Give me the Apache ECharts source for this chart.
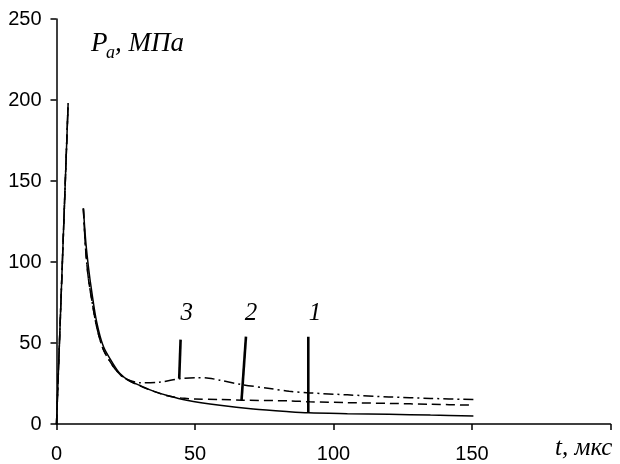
<!DOCTYPE html>
<html>
<head>
<meta charset="utf-8">
<script src="https://cdn.jsdelivr.net/npm/echarts@6/dist/echarts.min.js"></script>
<style>
  html, body { margin: 0; padding: 0; background: #fff; }
  #chart { width: 620px; height: 464px; }
</style>
</head>
<body>
<div id="chart"></div>
<script>
// Pressure pulse P_a (MPa) versus time t (µs), three cases

// initial rise, shared by all three curves
const riseT = [0, 4.2];
const riseP = [0, 198];

// curve 1 (solid)
const curve1T = [9.7, 10.6, 11.6, 12.7, 14.5, 16.9, 20.5, 23, 26, 30, 35, 40, 47, 59, 71, 84, 91, 105, 120, 135, 150.5];
const curve1P = [133, 112, 96, 82, 63, 48, 37, 31, 27, 23.9, 20.3, 17.6, 14.7, 11.6, 9.3, 7.6, 6.9, 6.4, 6.0, 5.5, 5.0];

// curve 2 (dashed)
const curve2T = [9.7, 10.5, 11.5, 12.7, 14.5, 16.9, 20.5, 23, 26, 30, 35, 40, 45, 50, 59, 67, 84, 91.5, 105, 120.4, 135, 150.5];
const curve2P = [133, 108, 90, 77, 60, 46, 35.5, 30.5, 27, 23.6, 20.2, 17.4, 16.0, 15.4, 15.1, 14.7, 14.3, 13.7, 13.2, 12.7, 12.2, 11.6];

// curve 3 (dash-dot)
const curve3T = [9.7, 10.5, 11.5, 12.7, 14.5, 16.9, 20.5, 23, 25.5, 30, 37, 44.6, 50.6, 55, 59, 67, 77, 84, 91.5, 105, 120, 135, 150.5];
const curve3P = [133, 108, 90, 77, 60, 46, 35.5, 30.5, 27.5, 25.5, 25.8, 28.0, 28.6, 28.3, 27.0, 24.3, 21.9, 20.2, 19.2, 18.0, 16.7, 15.8, 15.1];

// leader lines for the curve numbers: [t, P] at top and bottom
const leaderNames = ['1', '2', '3'];
const leaderTopT = [90.9, 68.4, 44.8];
const leaderTopP = [53.9, 53.9, 52.1];
const leaderBotT = [90.9, 66.8, 44.3];
const leaderBotP = [6.9, 14.6, 28.0];
const leaderLabelT = [93.3, 70.2, 47.0];
const leaderLabelP = [68.5, 68.5, 68.5];

// axis ticks
const xTicks = { min: 0, max: 200, step: 50 };
const yTicks = { min: 0, max: 250, step: 50 };

function pairs(ts, ps) { return ts.map((t, i) => [t, ps[i]]); }
function curveData(ts, ps) {
  return pairs(riseT, riseP).concat(['-'], pairs(ts, ps));
}

const axisColor = '#000';
const serif = '"Liberation Serif", "Times New Roman", serif';
const sans = '"Liberation Sans", Arial, sans-serif';

const curveSeries = [
  { name: '1', data: curveData(curve1T, curve1P), dash: 'solid' },
  { name: '2', data: curveData(curve2T, curve2P), dash: [9, 5] },
  { name: '3', data: curveData(curve3T, curve3P), dash: [10, 4, 2, 4] }
].map((c, i) => ({
  type: 'line',
  name: 'curve' + c.name,
  data: c.data,
  smooth: 0.3,
  showSymbol: false,
  connectNulls: false,
  z: 3 - i,
  lineStyle: { color: '#000', width: 1.5, type: c.dash },
  silent: true
}));

const leaderSeries = leaderNames.map((n, i) => ({
  type: 'line',
  name: 'leader' + n,
  data: [[leaderTopT[i], leaderTopP[i]], [leaderBotT[i], leaderBotP[i]]],
  showSymbol: false,
  lineStyle: { color: '#000', width: 2.6 },
  z: 5,
  silent: true
}));

const labelSeries = {
  type: 'scatter',
  name: 'labels',
  symbolSize: 1,
  itemStyle: { opacity: 1, color: 'rgba(0,0,0,0)' },
  data: leaderNames.map((n, i) => ({
    value: [leaderLabelT[i], leaderLabelP[i]],
    label: { formatter: n }
  })),
  label: {
    show: true,
    position: 'inside',
    color: '#000',
    opacity: 1,
    textBorderWidth: 0,
    fontFamily: serif,
    fontStyle: 'italic',
    fontSize: 25
  },
  z: 6,
  silent: true
};

const chart = echarts.init(document.getElementById('chart'), null, { renderer: 'canvas' });

chart.setOption({
  animation: false,
  backgroundColor: '#fff',
  grid: {
    left: 56.5,
    right: 9.5,
    top: 19,
    bottom: 40,
    containLabel: false,
    outerBoundsMode: 'none'
  },
  xAxis: {
    type: 'value',
    min: xTicks.min,
    max: xTicks.max,
    interval: xTicks.step,
    axisLine: { show: true, onZero: false, lineStyle: { color: axisColor, width: 1.5 } },
    axisTick: { show: true, inside: false, length: 6, lineStyle: { color: axisColor, width: 1.5 } },
    axisLabel: {
      color: '#000',
      fontFamily: sans,
      fontSize: 20,
      margin: 20,
      formatter: v => (v === xTicks.max ? '' : String(v))
    },
    splitLine: { show: false }
  },
  yAxis: {
    type: 'value',
    min: yTicks.min,
    max: yTicks.max,
    interval: yTicks.step,
    axisLine: { show: true, onZero: false, lineStyle: { color: axisColor, width: 1.5 } },
    axisTick: { show: true, inside: false, length: 6, lineStyle: { color: axisColor, width: 1.5 } },
    axisLabel: {
      color: '#000',
      fontFamily: sans,
      fontSize: 20,
      margin: 15
    },
    splitLine: { show: false }
  },
  graphic: [
    {
      type: 'text', left: 91, top: 30,
      style: { text: 'P', fill: '#000', font: 'italic 27px ' + serif }
    },
    {
      type: 'text', left: 106, top: 44,
      style: { text: 'a', fill: '#000', font: 'italic 18px ' + serif }
    },
    {
      type: 'text', left: 115, top: 30,
      style: { text: ', МПа', fill: '#000', font: 'italic 27px ' + serif }
    },
    {
      type: 'text', left: 555, top: 436,
      style: { text: 't, мкс', fill: '#000', font: 'italic 25px ' + serif }
    }
  ],
  series: curveSeries.concat(leaderSeries, [labelSeries])
});
</script>
</body>
</html>
